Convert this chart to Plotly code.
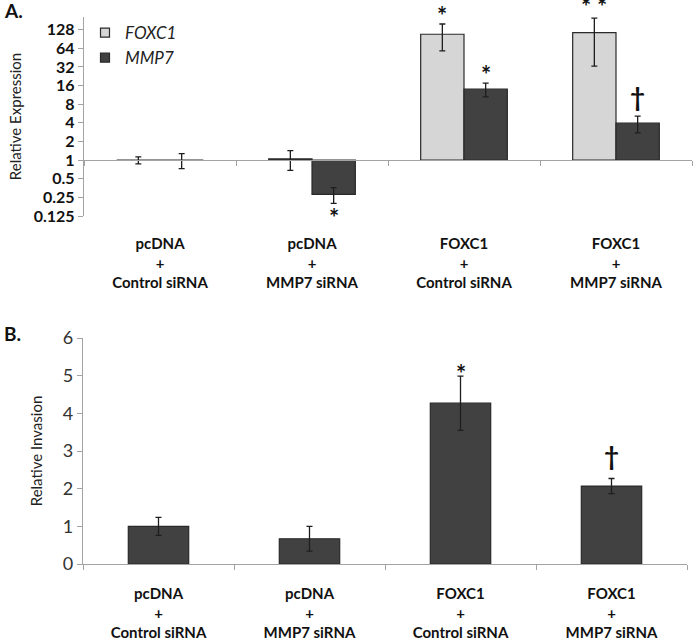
import math
import plotly.graph_objects as go

# ---------------- data ----------------
categories = ["pcDNA<br>+<br>Control siRNA", "pcDNA<br>+<br>MMP7 siRNA",
              "FOXC1<br>+<br>Control siRNA", "FOXC1<br>+<br>MMP7 siRNA"]
cat_keys = ["c1", "c2", "c3", "c4"]

# Panel A: relative expression (log2 axis)
foxc1_expr = [1.0, 1.05, 108.0, 115.0]
foxc1_err = [0.13, 0.37, 50.0, 82.0]
mmp7_expr = [1.0, 0.28, 14.0, 3.95]
mmp7_err = [0.27, 0.08, 3.5, 1.2]
a_ticks = [0.125, 0.25, 0.5, 1, 2, 4, 8, 16, 32, 64, 128]
a_ticktext = ["0.125", "0.25", "0.5", "1", "2", "4", "8", "16", "32", "64", "128"]

# Panel A significance marks: (category index, series, mark, above?)
a_marks = [(1, "MMP7", "*", False), (2, "FOXC1", "*", True), (2, "MMP7", "*", True),
           (3, "FOXC1", "* *", True), (3, "MMP7", "†", True)]

# Panel B: relative invasion
invasion = [1.0, 0.67, 4.27, 2.07]
invasion_err = [0.24, 0.33, 0.72, 0.2]
b_ticks = [0, 1, 2, 3, 4, 5, 6]
b_marks = [(2, "*"), (3, "†")]

# ---------------- style ----------------
W, H = 693, 641
LIGHT = "#d6d6d6"
DARK = "#414141"
EDGE = "#2a2a2a"
AXIS = "#a3a3a3"
FONT = "Lato, Liberation Sans, sans-serif"

A_YMIN, A_YMAX = 0.125, 205.0
a_dom = [1 - 216 / H, 1 - 17 / H]
b_dom = [1 - 564 / H, 1 - 338 / H]
a_xdom = [84 / W, 692 / W]
b_xdom = [83 / W, 687 / W]
BARGAP_A = 0.43

# vertical offsets (px) of the significance marks relative to the error-bar ends
A_SHIFT = {(1, "MMP7"): -14, (2, "FOXC1"): 8, (2, "MMP7"): 9, (3, "FOXC1"): 12, (3, "MMP7"): 19}
B_SHIFT = {2: 3, 3: 22}

fig = go.Figure()

fig.add_trace(go.Bar(
    x=cat_keys, y=[v - 1 for v in foxc1_expr], base=1, showlegend=False,
    name="FOXC1", marker=dict(color=LIGHT, line=dict(color=EDGE, width=1.2)),
    error_y=dict(type="data", array=foxc1_err, color="#1e1e1e", thickness=1.3, width=3),
    xaxis="x", yaxis="y"))
fig.add_trace(go.Bar(
    x=cat_keys, y=[v - 1 for v in mmp7_expr], base=1, showlegend=False,
    name="MMP7", marker=dict(color=DARK, line=dict(color=EDGE, width=1.2)),
    error_y=dict(type="data", array=mmp7_err, color="#1e1e1e", thickness=1.3, width=3),
    xaxis="x", yaxis="y"))
# legend entries (small square keys like the original)
for nm, col in [("<i>FOXC1</i>", LIGHT), ("<i>MMP7</i>", DARK)]:
    fig.add_trace(go.Scatter(x=[None], y=[None], mode="markers", name=nm,
                             marker=dict(symbol="square", size=9, color=col,
                                         line=dict(color=EDGE, width=1.2)),
                             xaxis="x", yaxis="y"))
fig.add_trace(go.Bar(
    x=cat_keys, y=invasion, name="Invasion", showlegend=False,
    marker=dict(color=DARK, line=dict(color=EDGE, width=1.2)),
    error_y=dict(type="data", array=invasion_err, color="#1e1e1e", thickness=1.3, width=3),
    xaxis="x3", yaxis="y2", width=0.4))

# position of y=1 line within panel A
frac1 = (math.log10(1) - math.log10(A_YMIN)) / (math.log10(A_YMAX) - math.log10(A_YMIN))
line_pos = a_dom[0] + frac1 * (a_dom[1] - a_dom[0])

cat_font = dict(family=FONT, size=15, color="#111", weight="bold")

fig.update_layout(
    width=W, height=H, margin=dict(l=0, r=0, t=0, b=0, autoexpand=False),
    paper_bgcolor="white", plot_bgcolor="white",
    barmode="group", bargap=BARGAP_A, bargroupgap=0,
    showlegend=True,
    legend=dict(x=85 / W, y=1 - 15 / H, xanchor="left", yanchor="top",
                font=dict(family=FONT, size=17, color="#222"),
                bgcolor="rgba(0,0,0,0)", tracegroupgap=0, itemwidth=30),
    xaxis=dict(domain=a_xdom, anchor="y", type="category", categoryorder="array",
               categoryarray=cat_keys, range=[-0.5, 3.5], automargin=False,
               tickvals=cat_keys, ticktext=categories, showline=False, ticks="",
               ticklabelstandoff=17, tickfont=cat_font, showgrid=False, zeroline=False),
    xaxis2=dict(domain=a_xdom, anchor="free", position=line_pos, overlaying="x",
                range=[-0.5, 3.5], tickvals=[-0.5, 0.5, 1.5, 2.5, 3.5], automargin=False,
                showticklabels=False, ticks="outside", ticklen=5, tickcolor=AXIS,
                showline=True, linecolor=AXIS, linewidth=1.3, showgrid=False, zeroline=False),
    yaxis=dict(domain=a_dom, anchor="x", type="log", automargin=False,
               range=[math.log10(A_YMIN), math.log10(A_YMAX)],
               tickvals=a_ticks, ticktext=a_ticktext,
               tickfont=dict(family=FONT, size=16, color="#111", weight="bold"),
               ticks="outside", ticklen=5, tickcolor=AXIS,
               showline=True, linecolor=AXIS, linewidth=1.3, showgrid=False,
               title=dict(text="Relative Expression", standoff=8,
                          font=dict(family=FONT, size=15, color="#222"))),
    xaxis3=dict(domain=b_xdom, anchor="y2", type="category", categoryorder="array",
                categoryarray=cat_keys, range=[-0.5, 3.5], automargin=False,
                tickvals=cat_keys, ticktext=categories, tickson="boundaries",
                ticks="outside", ticklen=5, tickcolor=AXIS, showline=True,
                linecolor=AXIS, linewidth=1.3, ticklabelstandoff=16,
                tickfont=cat_font, showgrid=False, zeroline=False),
    yaxis2=dict(domain=b_dom, anchor="x3", range=[0, 6], tickvals=b_ticks, automargin=False,
                tickfont=dict(family=FONT, size=18, color="#333"),
                ticks="outside", ticklen=5, tickcolor=AXIS,
                showline=True, linecolor=AXIS, linewidth=1.3, showgrid=False,
                zeroline=False,
                title=dict(text="Relative Invasion", standoff=16,
                           font=dict(family=FONT, size=15, color="#222"))),
)

# significance marks panel A
bar_half = (1 - BARGAP_A) / 4  # offset of each grouped bar from category centre
for ci, series, mark, above in a_marks:
    vals, errs = (foxc1_expr, foxc1_err) if series == "FOXC1" else (mmp7_expr, mmp7_err)
    off = -bar_half if series == "FOXC1" else bar_half
    v = vals[ci] + errs[ci] if above else vals[ci] - errs[ci]
    fig.add_annotation(x=ci + off, y=math.log10(v), xref="x2", yref="y", text=mark,
                       showarrow=False, yanchor="middle", yshift=A_SHIFT[(ci, series)],
                       font=dict(family=FONT, size=24 if "*" in mark else 26,
                                 color="#111", weight="bold"))

for ci, mark in b_marks:
    v = invasion[ci] + invasion_err[ci]
    fig.add_annotation(x=cat_keys[ci], y=v, xref="x3", yref="y2", text=mark,
                       showarrow=False, yanchor="middle", yshift=B_SHIFT[ci],
                       font=dict(family=FONT, size=24 if "*" in mark else 26,
                                 color="#111", weight="bold"))

# panel letters
fig.add_annotation(x=2 / W, y=1 - 11 / H, xref="paper", yref="paper", text="<b>A.</b>",
                   showarrow=False, xanchor="left", yanchor="middle",
                   font=dict(family=FONT, size=19, color="#111"))
fig.add_annotation(x=2 / W, y=1 - 333 / H, xref="paper", yref="paper", text="<b>B.</b>",
                   showarrow=False, xanchor="left", yanchor="middle",
                   font=dict(family=FONT, size=19, color="#111"))

fig.write_html("out.html", config={"displayModeBar": False},
               post_script="document.body.style.margin='0px';")
